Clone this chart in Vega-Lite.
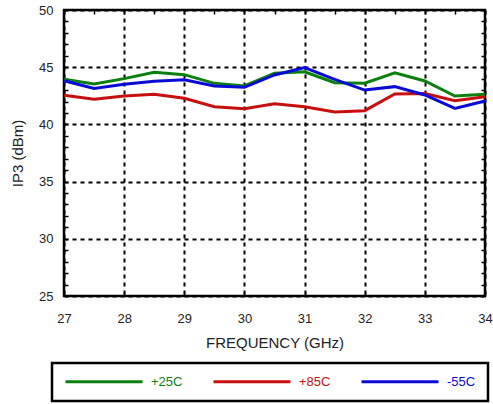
{
  "$schema": "https://vega.github.io/schema/vega-lite/v6.json",
  "width": 421,
  "height": 286,
  "autosize": "none",
  "padding": {"left": 64, "top": 10, "right": 8, "bottom": 108},
  "background": "white",
  "config": {
    "font": "Liberation Sans",
    "view": {"stroke": "black", "strokeWidth": 2.5},
    "legend": {"strokeColor": "black", "strokeWidth": 2.5, "fillColor": "white"},
    "axis": {"domain": false, "labelFont": "Liberation Sans", "titleFont": "Liberation Sans", "labelColor": "#222", "titleColor": "#222", "titleFontWeight": "normal", "labelFontSize": 13, "titleFontSize": 15, "tickColor": "black", "tickWidth": 1.5, "tickSize": -4, "gridColor": "black", "gridWidth": 2, "gridDash": [4, 4]}
  },
  "data": {"values": [
    {"f": 27, "ip3": 43.94, "s": "+25C"}, {"f": 27.5, "ip3": 43.53, "s": "+25C"}, {"f": 28, "ip3": 44.0, "s": "+25C"}, {"f": 28.5, "ip3": 44.55, "s": "+25C"}, {"f": 29, "ip3": 44.35, "s": "+25C"}, {"f": 29.5, "ip3": 43.59, "s": "+25C"}, {"f": 30, "ip3": 43.36, "s": "+25C"}, {"f": 30.5, "ip3": 44.47, "s": "+25C"}, {"f": 31, "ip3": 44.6, "s": "+25C"}, {"f": 31.5, "ip3": 43.65, "s": "+25C"}, {"f": 32, "ip3": 43.6, "s": "+25C"}, {"f": 32.5, "ip3": 44.5, "s": "+25C"}, {"f": 33, "ip3": 43.8, "s": "+25C"}, {"f": 33.5, "ip3": 42.48, "s": "+25C"}, {"f": 34, "ip3": 42.63, "s": "+25C"},
    {"f": 27, "ip3": 42.54, "s": "+85C"}, {"f": 27.5, "ip3": 42.19, "s": "+85C"}, {"f": 28, "ip3": 42.48, "s": "+85C"}, {"f": 28.5, "ip3": 42.63, "s": "+85C"}, {"f": 29, "ip3": 42.28, "s": "+85C"}, {"f": 29.5, "ip3": 41.55, "s": "+85C"}, {"f": 30, "ip3": 41.37, "s": "+85C"}, {"f": 30.5, "ip3": 41.8, "s": "+85C"}, {"f": 31, "ip3": 41.55, "s": "+85C"}, {"f": 31.5, "ip3": 41.08, "s": "+85C"}, {"f": 32, "ip3": 41.2, "s": "+85C"}, {"f": 32.5, "ip3": 42.66, "s": "+85C"}, {"f": 33, "ip3": 42.7, "s": "+85C"}, {"f": 33.5, "ip3": 42.07, "s": "+85C"}, {"f": 34, "ip3": 42.42, "s": "+85C"},
    {"f": 27, "ip3": 43.82, "s": "-55C"}, {"f": 27.5, "ip3": 43.15, "s": "-55C"}, {"f": 28, "ip3": 43.5, "s": "-55C"}, {"f": 28.5, "ip3": 43.77, "s": "-55C"}, {"f": 29, "ip3": 43.91, "s": "-55C"}, {"f": 29.5, "ip3": 43.36, "s": "-55C"}, {"f": 30, "ip3": 43.24, "s": "-55C"}, {"f": 30.5, "ip3": 44.32, "s": "-55C"}, {"f": 31, "ip3": 44.96, "s": "-55C"}, {"f": 31.5, "ip3": 43.94, "s": "-55C"}, {"f": 32, "ip3": 43.0, "s": "-55C"}, {"f": 32.5, "ip3": 43.3, "s": "-55C"}, {"f": 33, "ip3": 42.57, "s": "-55C"}, {"f": 33.5, "ip3": 41.4, "s": "-55C"}, {"f": 34, "ip3": 42.05, "s": "-55C"}
  ]},
  "layer": [
    {
      "mark": {"type": "line", "strokeWidth": 3},
      "encoding": {
        "x": {"field": "f", "type": "quantitative", "scale": {"domain": [27, 34], "nice": false, "zero": false},
          "axis": {"title": "FREQUENCY (GHz)", "format": "d", "values": [27, 27.5, 28, 28.5, 29, 29.5, 30, 30.5, 31, 31.5, 32, 32.5, 33, 33.5, 34],
            "labelExpr": "datum.value % 1 === 0 ? datum.label : ''", "gridOpacity": {"condition": {"test": "datum.value % 1 !== 0", "value": 0}, "value": 1},
            "labelPadding": 20, "titlePadding": 10, "labelFlush": false}},
        "y": {"field": "ip3", "type": "quantitative", "scale": {"domain": [25, 50], "nice": false, "zero": false},
          "axis": {"title": "IP3 (dBm)", "values": [25, 26, 27, 28, 29, 30, 31, 32, 33, 34, 35, 36, 37, 38, 39, 40, 41, 42, 43, 44, 45, 46, 47, 48, 49, 50],
            "labelExpr": "datum.value % 5 === 0 ? datum.label : ''", "gridOpacity": {"condition": {"test": "datum.value % 5 !== 0", "value": 0}, "value": 1},
            "labelPadding": 15, "titlePadding": 13, "labelFlush": false}},
        "color": {"field": "s", "type": "nominal", "scale": {"domain": ["+25C", "+85C", "-55C"], "range": ["#0b800f", "#c80f0f", "#0a0ad6"]},
          "legend": {"title": null, "orient": "none", "direction": "horizontal", "legendX": -12, "legendY": 353,
            "symbolType": "M-1,0H14.4", "symbolSize": 100, "symbolStrokeWidth": 3, "labelFontSize": 13, "labelFont": "Liberation Sans", "labelOffset": 74,
            "columnPadding": 24, "padding": 12,
            "encode": {"labels": {"update": {"fill": {"scale": "color", "field": "value"}}}}}}
      }
    },
    {
      "mark": {"type": "line", "opacity": 0},
      "encoding": {
        "x": {"field": "f", "type": "quantitative", "axis": {"orient": "top", "title": null, "labels": false, "grid": false, "values": [27, 27.5, 28, 28.5, 29, 29.5, 30, 30.5, 31, 31.5, 32, 32.5, 33, 33.5, 34]}},
        "y": {"field": "ip3", "type": "quantitative", "axis": {"orient": "right", "title": null, "labels": false, "grid": false, "values": [25, 26, 27, 28, 29, 30, 31, 32, 33, 34, 35, 36, 37, 38, 39, 40, 41, 42, 43, 44, 45, 46, 47, 48, 49, 50]}},
        "detail": {"field": "s"}
      }
    }
  ],
  "resolve": {"axis": {"x": "independent", "y": "independent"}}
}
